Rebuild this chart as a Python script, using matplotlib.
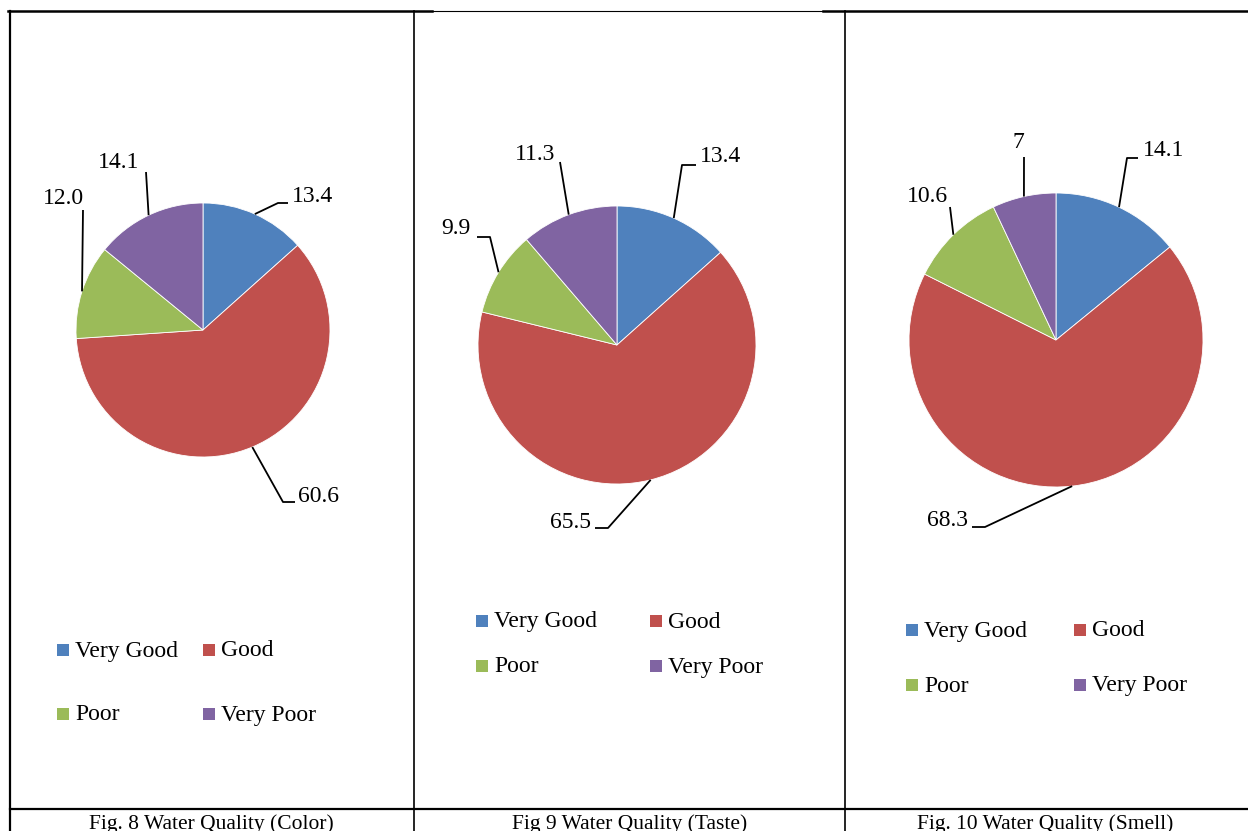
import numpy as np
import matplotlib.pyplot as plt
from matplotlib.patches import Rectangle

plt.rcParams['font.family'] = ['Liberation Serif', 'DejaVu Serif']

W, H = 1248, 831

categories = ["Very Good", "Good", "Poor", "Very Poor"]
colors = ["#4F81BD", "#C0504D", "#9BBB59", "#8064A2"]

color_vals = [13.4, 60.6, 12.0, 14.1]
taste_vals = [13.4, 65.5, 9.9, 11.3]
smell_vals = [14.1, 68.3, 10.6, 7]

color_labels = ["13.4", "60.6", "12.0", "14.1"]
taste_labels = ["13.4", "65.5", "9.9", "11.3"]
smell_labels = ["14.1", "68.3", "10.6", "7"]

captions = ["Fig. 8 Water Quality (Color)", "Fig 9 Water Quality (Taste)",
            "Fig. 10 Water Quality (Smell)"]

# layout, in image pixels (y measured from top)
# pie: centre x, centre y, radius
pies = [(203, 330, 127), (617, 345, 139), (1056, 340, 147)]
# per label: leader points after the wedge edge, text pos, alignment
lead = [
    [([(278, 203), (288, 203)], (292, 196), "left"),
     ([(283, 502), (295, 502)], (298, 496), "left"),
     ([(83, 210)], (63, 199), "center"),
     ([(146, 172)], (119, 163), "center")],
    [([(682, 165), (696, 165)], (700, 157), "left"),
     ([(608, 528), (595, 528)], (591, 522), "right"),
     ([(490, 237), (477, 237)], (471, 228), "right"),
     ([(560, 162)], (535, 155), "center")],
    [([(1127, 158), (1138, 158)], (1143, 151), "left"),
     ([(985, 527), (972, 527)], (968, 520), "right"),
     ([(950, 207)], (927, 197), "center"),
     ([(1024, 157)], (1018, 143), "center")],
]
# legend: x of the two columns (square left), y of the two rows
legends = [((57, 203), (650, 714)), ((476, 650), (621, 666)),
           ((906, 1074), (630, 685))]
cap_x = [211, 630, 1045]


def Y(y):
    return H - y


fig = plt.figure(figsize=(W / 100, H / 100), dpi=100)
ax = fig.add_axes([0, 0, 1, 1])

all_vals = [color_vals, taste_vals, smell_vals]
all_labels = [color_labels, taste_labels, smell_labels]

for i in range(3):
    cx, cy, r = pies[i]
    vals = all_vals[i]
    ax.pie(vals, colors=colors, startangle=90, counterclock=False,
           center=(cx, Y(cy)), radius=r, frame=True,
           wedgeprops=dict(edgecolor="white", linewidth=0.6))

    # data labels with leader lines from wedge edge at mid angle
    tot = sum(vals)
    start = 90.0
    for j, v in enumerate(vals):
        span = v / tot * 360
        mid = np.radians(start - span / 2)
        start -= span
        ex, ey = cx + r * np.cos(mid), Y(cy) + r * np.sin(mid)
        pts, (tx, ty), ha = lead[i][j]
        xs = [ex] + [p[0] for p in pts]
        ys = [ey] + [Y(p[1]) for p in pts]
        ax.plot(xs, ys, color="black", lw=1.3, solid_capstyle="butt")
        ax.text(tx, Y(ty), all_labels[i][j], ha=ha, va="center", fontsize=17)

    # legend
    (c1, c2), (r1, r2) = legends[i]
    spots = [(c1, r1), (c2, r1), (c1, r2), (c2, r2)]
    for k, (lx, ly) in enumerate(spots):
        ax.add_patch(Rectangle((lx, Y(ly) - 6), 12, 12, color=colors[k], lw=0))
        ax.text(lx + 18, Y(ly) - 1, categories[k], ha="left", va="center",
                fontsize=17)

    ax.text(cap_x[i], Y(829), captions[i], ha="center", va="baseline",
            fontsize=15.5)

# table borders
ax.plot([8, 432], [Y(11), Y(11)], color="black", lw=1.8)
ax.plot([432, 823], [Y(11), Y(11)], color="black", lw=0.8)
ax.plot([823, W], [Y(11), Y(11)], color="black", lw=1.8)
ax.plot([10, 10], [Y(11), 0], color="black", lw=1.6)
ax.plot([414, 414], [Y(11), 0], color="black", lw=1.2)
ax.plot([845, 845], [Y(11), 0], color="black", lw=1.2)
ax.plot([10, W], [Y(809), Y(809)], color="black", lw=1.6)

ax.set_xlim(0, W)
ax.set_ylim(0, H)
ax.axis("off")

fig.savefig("out.png", dpi=100)
